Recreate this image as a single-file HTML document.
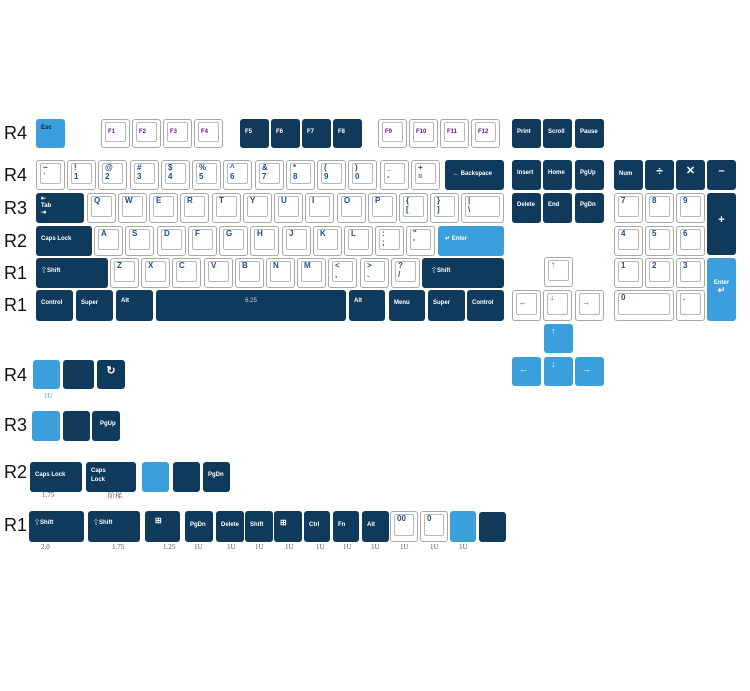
<!DOCTYPE html>
<html><head><meta charset="utf-8"><style>
body{margin:0;width:750px;height:691px;background:#fff;position:relative;overflow:hidden;font-family:"Liberation Sans","Noto Sans CJK SC",sans-serif}
.k{position:absolute;border-radius:3px;box-sizing:border-box;font-weight:bold;font-size:6px;line-height:7px;padding:6px 0 0 5px}
.d{background:#0f3a5c;color:#fff}
.b{background:#3b9fdc;color:#fff}
.w{background:#fff;border:1px solid #a8a8a8;color:#1b4d8f;font-size:8px;line-height:9px;padding:2px 0 0 6px}
.w::before{content:"";position:absolute;left:3px;top:2px;right:3px;bottom:5px;border:1px solid #b8b8b8;border-radius:2px}
.p{color:#5b1a86;font-size:6px;padding-top:8px}
.c{text-align:center;padding-left:0}
.r{position:absolute;font-size:18px;color:#111;left:4px}
.l{position:absolute;font-family:"Liberation Serif","Noto Serif CJK SC",serif;font-size:7px;color:#555}
</style></head><body>
<div class="r" style="top:123px">R4</div>
<div class="r" style="top:165px">R4</div>
<div class="r" style="top:198px">R3</div>
<div class="r" style="top:231px">R2</div>
<div class="r" style="top:263px">R1</div>
<div class="r" style="top:295px">R1</div>
<div class="r" style="top:365px">R4</div>
<div class="r" style="top:415px">R3</div>
<div class="r" style="top:462px">R2</div>
<div class="r" style="top:515px">R1</div>

<!-- F row -->
<div class="k b" style="left:36px;top:119px;width:29px;height:29px;color:#123">Esc</div>
<div class="k w p" style="left:101px;top:119px;width:29px;height:29px">F1</div>
<div class="k w p" style="left:132px;top:119px;width:29px;height:29px">F2</div>
<div class="k w p" style="left:163px;top:119px;width:29px;height:29px">F3</div>
<div class="k w p" style="left:194px;top:119px;width:29px;height:29px">F4</div>
<div class="k d" style="left:240px;top:119px;width:29px;height:29px;padding-top:10px">F5</div>
<div class="k d" style="left:271px;top:119px;width:29px;height:29px;padding-top:10px">F6</div>
<div class="k d" style="left:302px;top:119px;width:29px;height:29px;padding-top:10px">F7</div>
<div class="k d" style="left:333px;top:119px;width:29px;height:29px;padding-top:10px">F8</div>
<div class="k w p" style="left:378px;top:119px;width:29px;height:29px">F9</div>
<div class="k w p" style="left:409px;top:119px;width:29px;height:29px">F10</div>
<div class="k w p" style="left:440px;top:119px;width:29px;height:29px">F11</div>
<div class="k w p" style="left:471px;top:119px;width:29px;height:29px">F12</div>
<div class="k d" style="left:512px;top:119px;width:29px;height:29px;padding-top:10px">Print</div>
<div class="k d" style="left:543px;top:119px;width:29px;height:29px;padding-top:10px">Scroll</div>
<div class="k d" style="left:575px;top:119px;width:29px;height:29px;padding-top:10px">Pause</div>

<!-- number row -->
<div class="k w" style="left:36px;top:160px;width:29px;height:30px">~<br>`</div>
<div class="k w" style="left:67px;top:160px;width:29px;height:30px">!<br>1</div>
<div class="k w" style="left:98px;top:160px;width:29px;height:30px">@<br>2</div>
<div class="k w" style="left:130px;top:160px;width:29px;height:30px">#<br>3</div>
<div class="k w" style="left:161px;top:160px;width:29px;height:30px">$<br>4</div>
<div class="k w" style="left:192px;top:160px;width:29px;height:30px">%<br>5</div>
<div class="k w" style="left:223px;top:160px;width:29px;height:30px">^<br>6</div>
<div class="k w" style="left:255px;top:160px;width:29px;height:30px">&amp;<br>7</div>
<div class="k w" style="left:286px;top:160px;width:29px;height:30px">*<br>8</div>
<div class="k w" style="left:317px;top:160px;width:29px;height:30px">(<br>9</div>
<div class="k w" style="left:348px;top:160px;width:29px;height:30px">)<br>0</div>
<div class="k w" style="left:380px;top:160px;width:29px;height:30px">_<br>-</div>
<div class="k w" style="left:411px;top:160px;width:29px;height:30px">+<br>=</div>
<div class="k d" style="left:445px;top:160px;width:59px;height:30px;padding:11px 0 0 8px">← Backspace</div>
<div class="k d" style="left:512px;top:160px;width:29px;height:30px;padding-top:10px">Insert</div>
<div class="k d" style="left:543px;top:160px;width:29px;height:30px;padding-top:10px">Home</div>
<div class="k d" style="left:575px;top:160px;width:29px;height:30px;padding-top:10px">PgUp</div>
<div class="k d" style="left:614px;top:160px;width:29px;height:30px;padding-top:11px">Num</div>
<div class="k d c" style="left:645px;top:160px;width:29px;height:30px;font-size:12px;padding-top:8px">÷</div>
<div class="k d c" style="left:676px;top:160px;width:29px;height:30px;font-size:11px;padding-top:8px">✕</div>
<div class="k d c" style="left:707px;top:160px;width:29px;height:30px;font-size:11px;padding-top:8px">–</div>

<!-- Q row -->
<div class="k d" style="left:36px;top:193px;width:48px;height:30px;padding-top:3px">⇤<br>Tab<br>⇥</div>
<div class="k w" style="left:87px;top:193px;width:29px;height:30px">Q</div>
<div class="k w" style="left:118px;top:193px;width:29px;height:30px">W</div>
<div class="k w" style="left:149px;top:193px;width:29px;height:30px">E</div>
<div class="k w" style="left:180px;top:193px;width:29px;height:30px">R</div>
<div class="k w" style="left:212px;top:193px;width:29px;height:30px">T</div>
<div class="k w" style="left:243px;top:193px;width:29px;height:30px">Y</div>
<div class="k w" style="left:274px;top:193px;width:29px;height:30px">U</div>
<div class="k w" style="left:305px;top:193px;width:29px;height:30px">I</div>
<div class="k w" style="left:337px;top:193px;width:29px;height:30px">O</div>
<div class="k w" style="left:368px;top:193px;width:29px;height:30px">P</div>
<div class="k w" style="left:399px;top:193px;width:29px;height:30px">{<br>[</div>
<div class="k w" style="left:430px;top:193px;width:29px;height:30px">}<br>]</div>
<div class="k w" style="left:461px;top:193px;width:43px;height:30px">|<br>\</div>
<div class="k d" style="left:512px;top:193px;width:29px;height:30px;padding-top:9px">Delete</div>
<div class="k d" style="left:543px;top:193px;width:29px;height:30px;padding-top:9px">End</div>
<div class="k d" style="left:575px;top:193px;width:29px;height:30px;padding-top:9px">PgDn</div>
<div class="k w" style="left:614px;top:193px;width:29px;height:30px">7</div>
<div class="k w" style="left:645px;top:193px;width:29px;height:30px">8</div>
<div class="k w" style="left:676px;top:193px;width:29px;height:30px">9</div>
<div class="k d c" style="left:707px;top:193px;width:29px;height:62px;font-size:11px;padding-top:24px">+</div>

<!-- A row -->
<div class="k d" style="left:36px;top:226px;width:56px;height:30px;padding-top:10px">Caps Lock</div>
<div class="k w" style="left:94px;top:226px;width:29px;height:30px">A</div>
<div class="k w" style="left:125px;top:226px;width:29px;height:30px">S</div>
<div class="k w" style="left:157px;top:226px;width:29px;height:30px">D</div>
<div class="k w" style="left:188px;top:226px;width:29px;height:30px">F</div>
<div class="k w" style="left:219px;top:226px;width:29px;height:30px">G</div>
<div class="k w" style="left:250px;top:226px;width:29px;height:30px">H</div>
<div class="k w" style="left:282px;top:226px;width:29px;height:30px">J</div>
<div class="k w" style="left:313px;top:226px;width:29px;height:30px">K</div>
<div class="k w" style="left:344px;top:226px;width:29px;height:30px">L</div>
<div class="k w" style="left:375px;top:226px;width:29px;height:30px">:<br>;</div>
<div class="k w" style="left:406px;top:226px;width:29px;height:30px">"<br>'</div>
<div class="k b" style="left:438px;top:226px;width:66px;height:30px;padding:10px 0 0 7px">↵ Enter</div>
<div class="k w" style="left:614px;top:226px;width:29px;height:30px">4</div>
<div class="k w" style="left:645px;top:226px;width:29px;height:30px">5</div>
<div class="k w" style="left:676px;top:226px;width:29px;height:30px">6</div>

<!-- Z row -->
<div class="k d" style="left:36px;top:258px;width:72px;height:30px;padding-top:10px">⇧Shift</div>
<div class="k w" style="left:110px;top:258px;width:29px;height:30px">Z</div>
<div class="k w" style="left:141px;top:258px;width:29px;height:30px">X</div>
<div class="k w" style="left:172px;top:258px;width:29px;height:30px">C</div>
<div class="k w" style="left:204px;top:258px;width:29px;height:30px">V</div>
<div class="k w" style="left:235px;top:258px;width:29px;height:30px">B</div>
<div class="k w" style="left:266px;top:258px;width:29px;height:30px">N</div>
<div class="k w" style="left:297px;top:258px;width:29px;height:30px">M</div>
<div class="k w" style="left:328px;top:258px;width:29px;height:30px">&lt;<br>,</div>
<div class="k w" style="left:360px;top:258px;width:29px;height:30px">&gt;<br>.</div>
<div class="k w" style="left:391px;top:258px;width:29px;height:30px">?<br>/</div>
<div class="k d" style="left:422px;top:258px;width:82px;height:30px;padding:10px 0 0 9px">⇧Shift</div>
<div class="k w" style="left:544px;top:257px;width:29px;height:30px">↑</div>
<div class="k w" style="left:614px;top:258px;width:29px;height:30px">1</div>
<div class="k w" style="left:645px;top:258px;width:29px;height:30px">2</div>
<div class="k w" style="left:676px;top:258px;width:29px;height:30px">3</div>
<div class="k b c" style="left:707px;top:258px;width:29px;height:63px;padding-top:22px">Enter<br><span style="font-size:9px">↵</span></div>

<!-- bottom row -->
<div class="k d" style="left:36px;top:290px;width:37px;height:31px;padding-top:10px">Control</div>
<div class="k d" style="left:76px;top:290px;width:37px;height:31px;padding-top:10px">Super</div>
<div class="k d" style="left:116px;top:290px;width:37px;height:31px;padding-top:8px">Alt</div>
<div class="k d c" style="left:156px;top:290px;width:190px;height:31px;padding-top:8px;font-weight:normal;color:#c8d2dc">6.25</div>
<div class="k d" style="left:349px;top:290px;width:36px;height:31px;padding-top:8px">Alt</div>
<div class="k d" style="left:389px;top:290px;width:36px;height:31px;padding-top:10px">Menu</div>
<div class="k d" style="left:428px;top:290px;width:37px;height:31px;padding-top:10px">Super</div>
<div class="k d" style="left:467px;top:290px;width:37px;height:31px;padding-top:10px">Control</div>
<div class="k w" style="left:512px;top:290px;width:29px;height:31px;padding-top:7px">←</div>
<div class="k w" style="left:543px;top:290px;width:29px;height:31px">↓</div>
<div class="k w" style="left:575px;top:290px;width:29px;height:31px;padding-top:7px">→</div>
<div class="k w" style="left:614px;top:290px;width:60px;height:31px">0</div>
<div class="k w" style="left:676px;top:290px;width:29px;height:31px">.</div>

<!-- blue arrows -->
<div class="k b" style="left:544px;top:324px;width:29px;height:29px;font-size:9px;padding:4px 0 0 7px">↑</div>
<div class="k b" style="left:512px;top:357px;width:29px;height:29px;font-size:9px;padding:9px 0 0 7px">←</div>
<div class="k b" style="left:544px;top:357px;width:29px;height:29px;font-size:9px;padding:4px 0 0 7px">↓</div>
<div class="k b" style="left:575px;top:357px;width:29px;height:29px;font-size:9px;padding:9px 0 0 7px">→</div>

<!-- lower R4 -->
<div class="k b" style="left:33px;top:360px;width:27px;height:29px"></div>
<div class="k d" style="left:63px;top:360px;width:31px;height:29px"></div>
<div class="k d c" style="left:97px;top:360px;width:28px;height:29px;font-size:11px;padding-top:8px">↻</div>
<div class="l" style="left:44px;top:392px;color:#3b9fdc">1U</div>

<!-- lower R3 -->
<div class="k b" style="left:32px;top:411px;width:28px;height:30px"></div>
<div class="k d" style="left:63px;top:411px;width:27px;height:30px"></div>
<div class="k d" style="left:92px;top:411px;width:28px;height:30px;padding:10px 0 0 8px">PgUp</div>

<!-- lower R2 -->
<div class="k d" style="left:30px;top:462px;width:52px;height:30px;padding-top:10px">Caps Lock</div>
<div class="k d" style="left:86px;top:462px;width:50px;height:30px;padding-top:5px;line-height:9px">Caps<br>Lock</div>
<div class="k b" style="left:142px;top:462px;width:27px;height:30px"></div>
<div class="k d" style="left:173px;top:462px;width:27px;height:30px"></div>
<div class="k d" style="left:203px;top:462px;width:27px;height:30px;padding-top:10px">PgDn</div>
<div class="l" style="left:42px;top:491px">1.75</div>
<div class="l" style="left:108px;top:491px">阶梯</div>

<!-- lower R1 -->
<div class="k d" style="left:29px;top:511px;width:55px;height:31px;padding-top:9px">⇧Shift</div>
<div class="k d" style="left:88px;top:511px;width:52px;height:31px;padding-top:9px">⇧Shift</div>
<div class="k d" style="left:145px;top:511px;width:35px;height:31px;padding:6px 0 0 10px;font-size:8px">⊞</div>
<div class="k d" style="left:185px;top:511px;width:28px;height:31px;padding-top:11px">PgDn</div>
<div class="k d" style="left:216px;top:511px;width:28px;height:31px;padding-top:11px">Delete</div>
<div class="k d" style="left:245px;top:511px;width:28px;height:31px;padding-top:11px">Shift</div>
<div class="k d" style="left:274px;top:511px;width:28px;height:31px;padding:8px 0 0 6px;font-size:8px">⊞</div>
<div class="k d" style="left:304px;top:511px;width:26px;height:31px;padding-top:11px">Ctrl</div>
<div class="k d" style="left:333px;top:511px;width:26px;height:31px;padding-top:11px">Fn</div>
<div class="k d" style="left:362px;top:511px;width:27px;height:31px;padding-top:11px">Alt</div>
<div class="k w" style="left:390px;top:511px;width:28px;height:31px">00</div>
<div class="k w" style="left:420px;top:511px;width:28px;height:31px">0</div>
<div class="k b" style="left:450px;top:511px;width:26px;height:31px"></div>
<div class="k d" style="left:479px;top:512px;width:27px;height:30px"></div>
<div class="l" style="left:41px;top:543px">2.0</div>
<div class="l" style="left:112px;top:543px">1.75</div>
<div class="l" style="left:163px;top:543px">1.25</div>
<div class="l" style="left:194px;top:543px">1U</div>
<div class="l" style="left:227px;top:543px">1U</div>
<div class="l" style="left:255px;top:543px">1U</div>
<div class="l" style="left:285px;top:543px">1U</div>
<div class="l" style="left:316px;top:543px">1U</div>
<div class="l" style="left:343px;top:543px">1U</div>
<div class="l" style="left:371px;top:543px">1U</div>
<div class="l" style="left:400px;top:543px">1U</div>
<div class="l" style="left:430px;top:543px">1U</div>
<div class="l" style="left:459px;top:543px">1U</div>
</body></html>
